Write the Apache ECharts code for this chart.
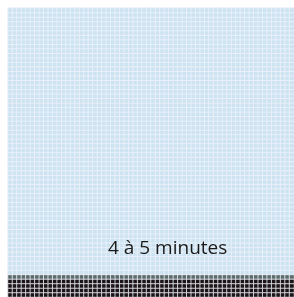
<!DOCTYPE html>
<html>
<head>
<meta charset="utf-8">
<script src="https://cdn.jsdelivr.net/npm/echarts@6/dist/echarts.min.js"></script>
<style>
  html, body { margin: 0; padding: 0; background: #fff; }
  #main { width: 294px; height: 297px; }
</style>
</head>
<body>
<div id="main"></div>
<script>
// waffle grid: light cells, with a few dark rows at the bottom
const colCount = 64;
const rowCount = 64;
const darkRows = 4;      // full black rows at the bottom
const greyRows = 1;      // transition row just above them
const caption = '4 à 5 minutes';

const cols = [];
for (let i = 0; i < colCount; i++) cols.push(String(i));
const rows = [];
for (let j = 0; j < rowCount; j++) rows.push(String(j));

// 0 = light, 1 = grey, 2 = dark ; row 0 is the bottom
const cells = [];
for (let j = 0; j < rowCount; j++) {
  let v = 0;
  if (j < darkRows) v = 2;
  else if (j < darkRows + greyRows) v = 1;
  for (let i = 0; i < colCount; i++) cells.push([i, j, v]);
}

const myChart = echarts.init(document.getElementById('main'));
myChart.setOption({
  animation: false,
  grid: { left: 8, right: 0, top: 8, bottom: 0 },
  xAxis: { type: 'category', data: cols, show: false },
  yAxis: { type: 'category', data: rows, show: false },
  visualMap: {
    show: false,
    type: 'piecewise',
    dimension: 2,
    pieces: [
      { value: 0, color: '#cde3f1' },
      { value: 1, color: '#5d6b6c' },
      { value: 2, color: '#1c1416' }
    ]
  },
  series: [{
    type: 'heatmap',
    data: cells,
    itemStyle: { borderColor: '#eef3fa', borderWidth: 0.8 }
  }],
  graphic: [{
    type: 'text',
    z: 100,
    left: 108,
    top: 239,
    style: {
      text: caption,
      font: '19px "Open Sans", sans-serif',
      fill: '#1a1a1a'
    }
  }]
});
</script>
</body>
</html>
